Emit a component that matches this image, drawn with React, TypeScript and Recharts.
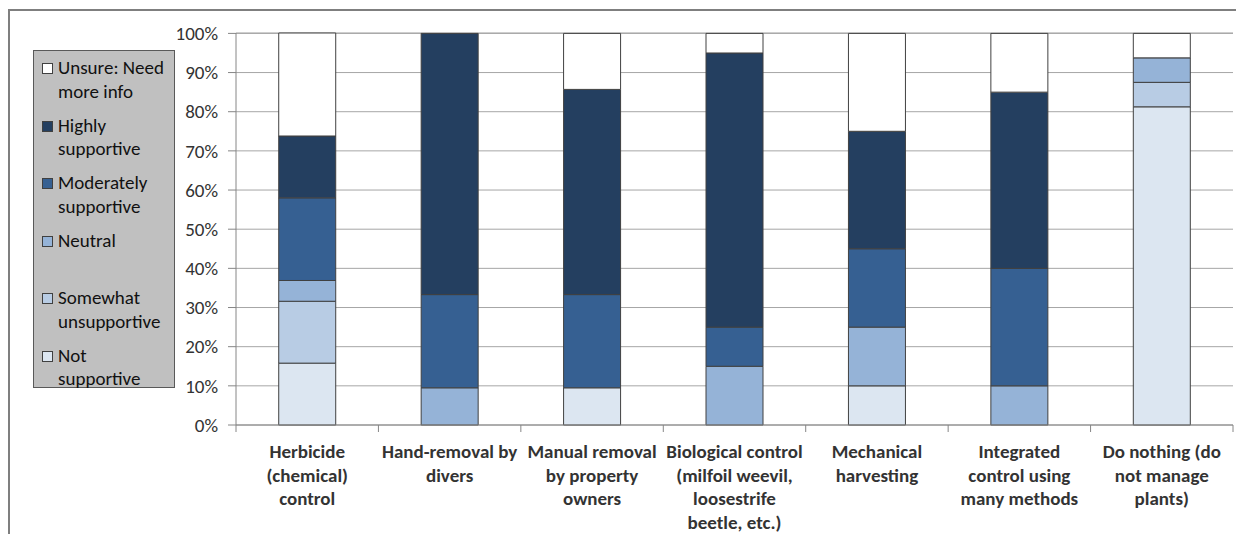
import React from 'react';
import { Bar, BarChart, CartesianGrid, XAxis, YAxis } from 'recharts';

const categories = [
  'Herbicide (chemical) control',
  'Hand-removal by divers',
  'Manual removal by property owners',
  'Biological control (milfoil weevil, loosestrife beetle, etc.)',
  'Mechanical harvesting',
  'Integrated control using many methods',
  'Do nothing (do not manage plants)',
];

// how each category label wraps under the axis
const categoryLines = [
  ['Herbicide', '(chemical)', 'control'],
  ['Hand-removal by', 'divers'],
  ['Manual removal', 'by property', 'owners'],
  ['Biological control', '(milfoil weevil,', 'loosestrife', 'beetle, etc.)'],
  ['Mechanical', 'harvesting'],
  ['Integrated', 'control using', 'many methods'],
  ['Do nothing (do', 'not manage', 'plants)'],
];

// percent of respondents, bottom of the stack first
const notSupportive = [15.8, 0, 9.5, 0, 10, 0, 81.25];
const somewhatUnsupportive = [15.8, 0, 0, 0, 0, 0, 6.25];
const neutral = [5.3, 9.5, 0, 15, 15, 10, 6.25];
const moderatelySupportive = [21.1, 23.8, 23.8, 10, 20, 30, 0];
const highlySupportive = [15.8, 66.7, 52.4, 70, 30, 45, 0];
const unsure = [26.3, 0, 14.3, 5, 25, 15, 6.25];

const yTicks = [0, 10, 20, 30, 40, 50, 60, 70, 80, 90, 100];

const SERIES = [
  { key: 'notSupportive', name: 'Not supportive', label: ['Not', 'supportive'], color: '#dce6f1', values: notSupportive },
  { key: 'somewhat', name: 'Somewhat unsupportive', label: ['Somewhat', 'unsupportive'], color: '#b8cce4', values: somewhatUnsupportive },
  { key: 'neutral', name: 'Neutral', label: ['Neutral', ''], color: '#95b3d7', values: neutral },
  { key: 'moderately', name: 'Moderately supportive', label: ['Moderately', 'supportive'], color: '#366092', values: moderatelySupportive },
  { key: 'highly', name: 'Highly supportive', label: ['Highly', 'supportive'], color: '#243f60', values: highlySupportive },
  { key: 'unsure', name: 'Unsure: Need more info', label: ['Unsure: Need', 'more info'], color: '#ffffff', values: unsure },
];

const data = categories.map((name, i) => {
  const row: Record<string, string | number> = { name, idx: i };
  SERIES.forEach((s) => {
    row[s.key] = s.values[i];
  });
  return row;
});

const FONT = 'Carlito, Calibri, Lato, sans-serif';
const GRID = '#a6a6a6';
const AXIS = '#868686';

const WIDTH = 1236;
const HEIGHT = 526;
const MARGIN = { top: 25, right: 11, left: 0, bottom: 0 };
const Y_WIDTH = 228;
const BAND = (WIDTH - MARGIN.right - Y_WIDTH) / categories.length;

function CategoryTick(props: any) {
  const { x, y, payload, index } = props;
  const lines = categoryLines[index] ?? [payload.value];
  return (
    <g>
      {index === 0 && <line x1={x - BAND / 2} x2={x - BAND / 2} y1={y - 8} y2={y - 1} stroke={AXIS} />}
      <line x1={x + BAND / 2} x2={x + BAND / 2} y1={y - 8} y2={y - 1} stroke={AXIS} />
      <text x={x} y={y + 25} textAnchor="middle" fontFamily={FONT} fontWeight={700} fontSize={19} fill="#333">
        {lines.map((l: string, i: number) => (
          <tspan key={i} x={x} dy={i === 0 ? 0 : 23.5}>
            {l}
          </tspan>
        ))}
      </text>
    </g>
  );
}

function LegendBox() {
  const reversed = [...SERIES].reverse();
  return (
    <div
      style={{
        position: 'absolute',
        left: 25,
        top: 42,
        width: 142,
        height: 338,
        background: '#c0c0c0',
        border: '1px solid #595959',
        paddingTop: 5,
        boxSizing: 'border-box',
        fontFamily: FONT,
        fontSize: 19,
        color: '#111',
      }}
    >
      {reversed.map((s) => (
        <div key={s.key} style={{ position: 'relative', height: 57.5, paddingLeft: 24 }}>
          <span
            style={{
              position: 'absolute',
              left: 8,
              top: 7,
              width: 9,
              height: 9,
              background: s.color,
              border: '1px solid #404040',
            }}
          />
          {s.label.map((l, i) => (
            <div key={i} style={{ lineHeight: '23.5px', height: 23.5, whiteSpace: 'nowrap' }}>
              {l}
            </div>
          ))}
        </div>
      ))}
    </div>
  );
}

export default function App() {
  return (
    <div style={{ position: 'relative', width: WIDTH, height: HEIGHT }}>
      <div
        style={{
          position: 'absolute',
          left: 0,
          top: 1,
          width: WIDTH + 20,
          height: HEIGHT + 20,
          borderLeft: '2px solid #7f7f7f',
          borderTop: '2px solid #7f7f7f',
        }}
      />
      <BarChart
        width={WIDTH}
        height={HEIGHT}
        data={data}
        margin={MARGIN}
        barCategoryGap="30%"
        style={{ position: 'absolute', left: 0, top: 0 }}
      >
        <CartesianGrid stroke={GRID} vertical={false} />
        <XAxis
          dataKey="name"
          height={109}
          interval={0}
          tickLine={false}
          axisLine={{ stroke: AXIS }}
          tick={<CategoryTick />}
        />
        <YAxis
          width={Y_WIDTH}
          domain={[0, 100]}
          ticks={yTicks}
          interval={0}
          tickFormatter={(v) => `${v}%`}
          tickSize={8}
          tickMargin={10}
          axisLine={{ stroke: AXIS }}
          tickLine={{ stroke: AXIS }}
          tick={{ fontFamily: FONT, fontSize: 19, fill: '#333' }}
        />
        <YAxis
          yAxisId="edge"
          orientation="right"
          width={0}
          domain={[0, 100]}
          tick={false}
          tickLine={false}
          axisLine={{ stroke: AXIS }}
        />
        {SERIES.map((s) => (
          <Bar
            key={s.key}
            dataKey={s.key}
            name={s.name}
            stackId="a"
            fill={s.color}
            stroke="#404040"
            strokeWidth={1}
            isAnimationActive={false}
          />
        ))}
      </BarChart>
      <LegendBox />
    </div>
  );
}
